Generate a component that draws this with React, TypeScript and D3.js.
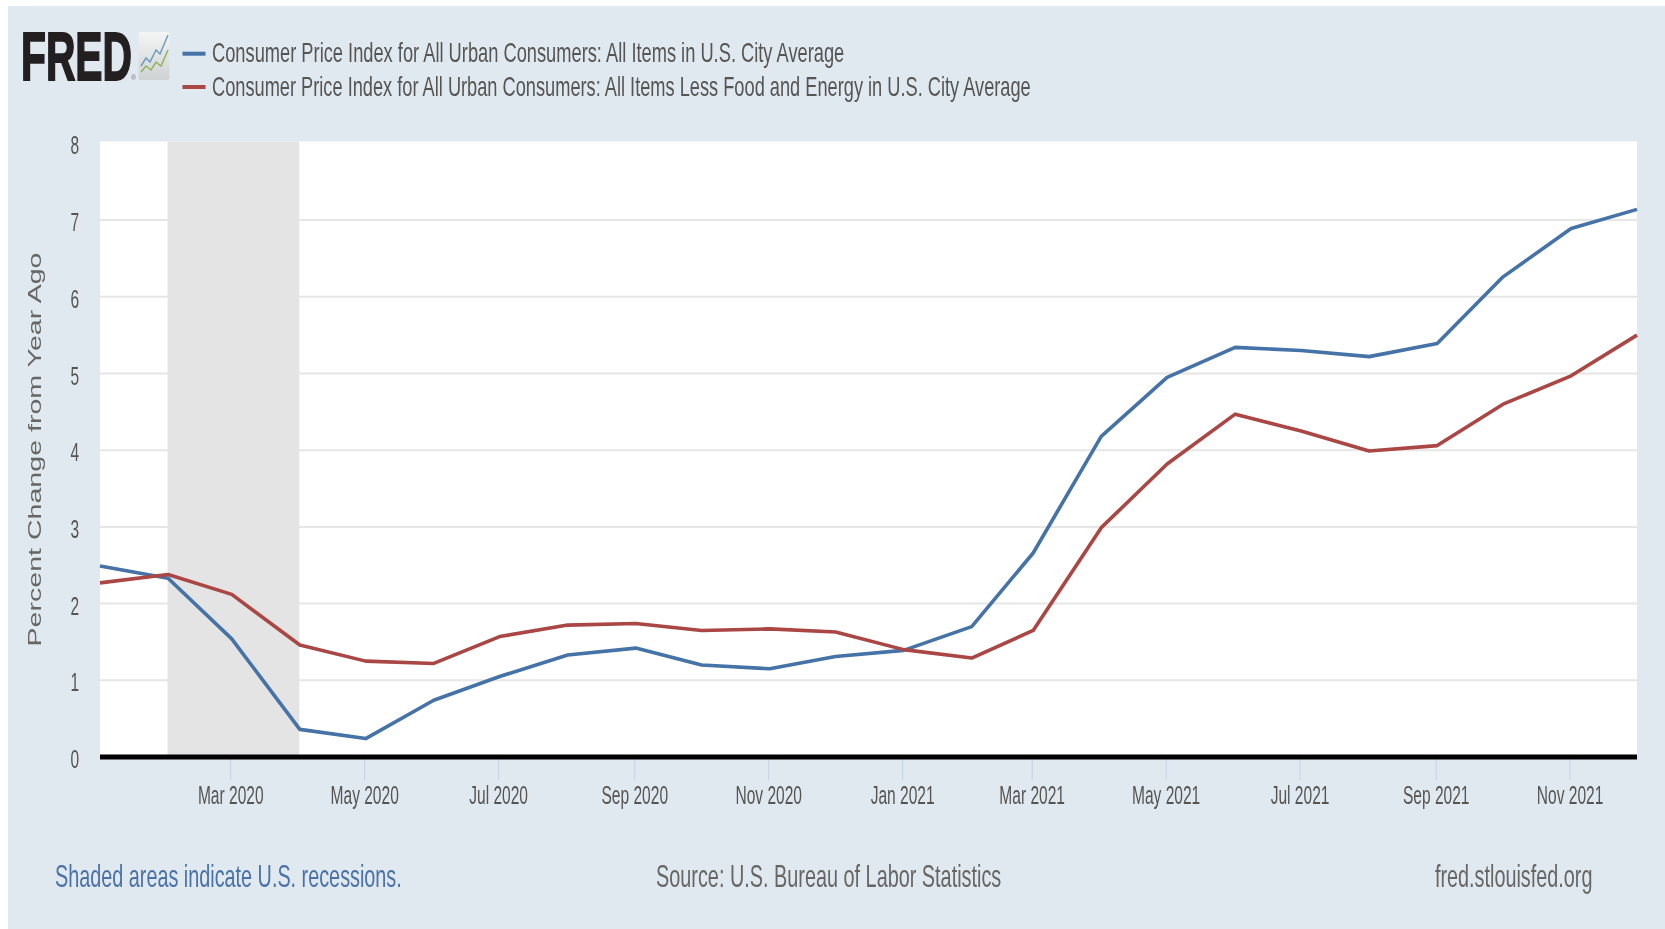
import { FC, useEffect, useRef } from "react";
import * as d3 from "d3";

const months = [
  "2020-01", "2020-02", "2020-03", "2020-04", "2020-05", "2020-06",
  "2020-07", "2020-08", "2020-09", "2020-10", "2020-11", "2020-12",
  "2021-01", "2021-02", "2021-03", "2021-04", "2021-05", "2021-06",
  "2021-07", "2021-08", "2021-09", "2021-10", "2021-11", "2021-12",
];
const allItems = [
  2.49, 2.33, 1.54, 0.36, 0.24, 0.74, 1.05, 1.33, 1.42, 1.2, 1.15, 1.31,
  1.39, 1.7, 2.66, 4.18, 4.95, 5.34, 5.3, 5.22, 5.39, 6.26, 6.89, 7.14,
];
const coreItems = [
  2.27, 2.38, 2.12, 1.46, 1.25, 1.22, 1.57, 1.72, 1.74, 1.65, 1.67, 1.63,
  1.4, 1.29, 1.65, 2.99, 3.82, 4.47, 4.25, 3.99, 4.06, 4.6, 4.97, 5.5,
];
const xTicks = [
  "2020-03", "2020-05", "2020-07", "2020-09", "2020-11", "2021-01",
  "2021-03", "2021-05", "2021-07", "2021-09", "2021-11",
];
const yTicks = [0, 1, 2, 3, 4, 5, 6, 7, 8];
const recession = ["2020-02", "2020-04"];
const legendLabels = [
  "Consumer Price Index for All Urban Consumers: All Items in U.S. City Average",
  "Consumer Price Index for All Urban Consumers: All Items Less Food and Energy in U.S. City Average",
];

const parseMonth = d3.utcParse("%Y-%m");
const BLUE = "#4572a7";
const RED = "#aa4643";
const FONT = "'Liberation Sans', Arial, sans-serif";

// squeezes a text to the width it has in the picture
const fitText = (
  sel: d3.Selection<SVGTextElement, unknown, null, undefined>,
  x: number,
  y: number,
  width: number,
) => {
  const natural = sel.node()!.getComputedTextLength();
  sel.attr("transform", `translate(${x},${y}) scale(${width / natural},1)`);
};

const App: FC = () => {
  const ref = useRef<SVGSVGElement>(null);

  useEffect(() => {
    const svg = d3.select(ref.current);
    svg.selectAll("*").remove();

    const plot = { left: 100, right: 1637, top: 141.5, bottom: 757 };
    const dates = months.map((m) => parseMonth(m)!);

    const x = d3
      .scaleUtc()
      .domain([dates[0], dates[dates.length - 1]])
      .range([plot.left, plot.right]);
    const y = d3.scaleLinear().domain([0, 8]).range([plot.bottom, 143.4]);

    // panel
    svg
      .append("rect")
      .attr("x", 8)
      .attr("y", 6)
      .attr("width", 1660)
      .attr("height", 926)
      .attr("fill", "#e1e9f0");
    svg
      .append("rect")
      .attr("x", plot.left)
      .attr("y", plot.top)
      .attr("width", plot.right - plot.left)
      .attr("height", plot.bottom - plot.top)
      .attr("fill", "#fff");

    // grid
    svg
      .append("g")
      .selectAll("line")
      .data(yTicks.filter((t) => t > 0 && t < 8))
      .enter()
      .append("line")
      .attr("x1", plot.left)
      .attr("x2", plot.right)
      .attr("y1", (d) => y(d))
      .attr("y2", (d) => y(d))
      .attr("stroke", "#e6e6e6")
      .attr("stroke-width", 2);

    // recession band sits on top of the grid
    const recX = recession.map((m) => x(parseMonth(m)!));
    svg
      .append("rect")
      .attr("x", recX[0] - 0.5)
      .attr("y", plot.top)
      .attr("width", recX[1] - recX[0])
      .attr("height", plot.bottom - plot.top)
      .attr("fill", "#e4e4e4");

    // x axis
    const xAxis = svg
      .append("g")
      .attr("transform", `translate(-1.5,${plot.bottom})`)
      .call(
        d3
          .axisBottom(x)
          .tickValues(xTicks.map((m) => parseMonth(m)!))
          .tickFormat((d) => d3.utcFormat("%b %Y")(d as Date))
          .tickSize(23),
      );
    xAxis.select(".domain").remove();
    xAxis.selectAll(".tick line").attr("stroke", "#c4d2e4").attr("stroke-width", 1);
    xAxis
      .selectAll(".tick text")
      .attr("y", 0)
      .attr("dy", 0)
      .attr("transform", "translate(0,46.5) scale(0.61,1)")
      .attr("font-family", FONT)
      .attr("font-size", 25.5)
      .attr("fill", "#555");

    // y axis
    const yAxis = svg
      .append("g")
      .attr("transform", `translate(${plot.left},0)`)
      .call(d3.axisLeft(y).tickValues(yTicks).tickFormat(d3.format("d")).tickSize(0));
    yAxis.select(".domain").remove();
    yAxis
      .selectAll(".tick text")
      .attr("x", 0)
      .attr("dy", 0)
      .attr("text-anchor", "end")
      .attr("transform", "translate(-21,10.5) scale(0.62,1)")
      .attr("font-family", FONT)
      .attr("font-size", 25)
      .attr("fill", "#555");

    svg
      .append("text")
      .attr("transform", "translate(41,449.5) rotate(-90)")
      .attr("text-anchor", "middle")
      .attr("font-family", FONT)
      .attr("font-size", 17.5)
      .attr("fill", "#666")
      .attr("textLength", 394)
      .attr("lengthAdjust", "spacingAndGlyphs")
      .text("Percent Change from Year Ago");

    // series
    const line = d3
      .line<number>()
      .x((_, i) => x(dates[i]))
      .y((d) => y(d));
    const series: [number[], string][] = [
      [allItems, BLUE],
      [coreItems, RED],
    ];
    series.forEach(([values, color]) => {
      svg
        .append("path")
        .attr("d", line(values))
        .attr("fill", "none")
        .attr("stroke", color)
        .attr("stroke-width", 3.6)
        .attr("stroke-linejoin", "round");
    });

    // baseline drawn over the band
    svg
      .append("line")
      .attr("x1", plot.left)
      .attr("x2", plot.right)
      .attr("y1", plot.bottom)
      .attr("y2", plot.bottom)
      .attr("stroke", "#000")
      .attr("stroke-width", 5);

    // legend
    const legendRows = [
      { label: legendLabels[0], color: BLUE, lineY: 53.7, baseY: 62, length: 632.5 },
      { label: legendLabels[1], color: RED, lineY: 87, baseY: 95.5, length: 819.5 },
    ];
    legendRows.forEach((row) => {
      svg
        .append("line")
        .attr("x1", 182.5)
        .attr("x2", 205.5)
        .attr("y1", row.lineY)
        .attr("y2", row.lineY)
        .attr("stroke", row.color)
        .attr("stroke-width", 4);
      const label = svg
        .append("text")
        .attr("font-family", FONT)
        .attr("font-size", 27)
        .attr("fill", "#555")
        .text(row.label);
      fitText(label, 212, row.baseY, row.length);
    });

    // FRED logo
    const fred = svg
      .append("text")
      .attr("font-family", FONT)
      .attr("font-weight", 700)
      .attr("font-size", 68)
      .attr("fill", "#231f20")
      .attr("stroke", "#231f20")
      .attr("stroke-width", 2)
      .text("FRED");
    fitText(fred, 21, 79.5, 111);
    svg
      .append("text")
      .attr("x", 131)
      .attr("y", 80)
      .attr("font-family", FONT)
      .attr("font-size", 7)
      .attr("fill", "#777")
      .text("®");

    const defs = svg.append("defs");
    const grad = defs
      .append("linearGradient")
      .attr("id", "logoBg")
      .attr("x1", 0)
      .attr("x2", 0)
      .attr("y1", 0)
      .attr("y2", 1);
    grad.append("stop").attr("offset", 0).attr("stop-color", "#f4f6f6");
    grad.append("stop").attr("offset", 1).attr("stop-color", "#cfd2d2");
    svg
      .append("rect")
      .attr("x", 138.5)
      .attr("y", 32)
      .attr("width", 31)
      .attr("height", 48)
      .attr("rx", 2)
      .attr("fill", "url(#logoBg)");
    const logoLine = d3.line();
    svg
      .append("path")
      .attr("d", logoLine([[141, 66], [146, 58], [150, 62], [156, 50], [160, 54], [168, 35]]))
      .attr("fill", "none")
      .attr("stroke", "#6f9bc0")
      .attr("stroke-width", 1.5);
    svg
      .append("path")
      .attr("d", logoLine([[141, 72], [146, 66], [151, 70], [156, 62], [161, 66], [168, 50]]))
      .attr("fill", "none")
      .attr("stroke", "#8fb35c")
      .attr("stroke-width", 1.5);

    // footer
    const footer = [
      { text: "Shaded areas indicate U.S. recessions.", x: 55, length: 347, fill: "#4a72a8" },
      { text: "Source: U.S. Bureau of Labor Statistics", x: 656, length: 345.5, fill: "#666" },
      { text: "fred.stlouisfed.org", x: 1435, length: 157.5, fill: "#666" },
    ];
    footer.forEach((f) => {
      const note = svg
        .append("text")
        .attr("font-family", FONT)
        .attr("font-size", 31)
        .attr("fill", f.fill)
        .text(f.text);
      fitText(note, f.x, 887, f.length);
    });
  }, []);

  return (
    <div style={{ position: "absolute", left: 0, top: 0, width: 1665, height: 929, overflow: "hidden" }}>
      <svg
        ref={ref}
        width={1665}
        height={929}
        style={{ display: "block", background: "#fff", filter: "blur(0.7px)" }}
      />
    </div>
  );
};

export default App;
